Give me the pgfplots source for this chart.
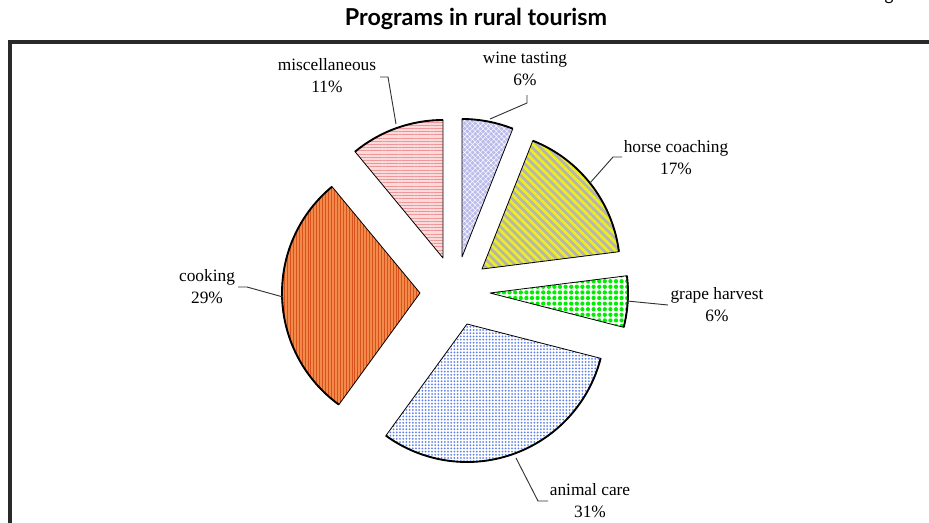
\documentclass[border=0pt]{standalone}
\usepackage{fontspec}
\setmainfont{Liberation Serif}
\newfontfamily\titlefont{Lato}
\usepackage{pgfplots}
\pgfplotsset{compat=1.18}
\usepackage{pgfplotstable}
\usetikzlibrary{patterns.meta}

\definecolor{winefill}{HTML}{BCBCEC}
\definecolor{horsegray}{HTML}{B4B4B0}
\definecolor{horseyel}{HTML}{EEEE22}
\definecolor{grapegreen}{HTML}{00EE00}
\definecolor{animalblue}{HTML}{5F80EA}
\definecolor{cookfill}{HTML}{F28A4A}
\definecolor{cookline}{HTML}{D8501C}
\definecolor{miscfill}{HTML}{FADADA}
\definecolor{miscline}{HTML}{EE9696}
\definecolor{frame}{HTML}{2A2A2A}
\definecolor{leader}{HTML}{333333}

% share (%) of each programme, clockwise from the top; ax, ay = apex of the exploded slice (pixels)
\pgfplotstableread{
name    cum pct ax  ay
wine     0   6  462 257
horse    6  17  482 269
grape   23   6  490 293
animal  29  31  467 324
cooking 60  29  420 293
misc    89  11  443 258
}\pietable

\tikzset{
  s-wine/.style={fill=winefill, postaction={pattern={Hatch[angle=45,distance=2.8pt,line width=0.35pt]}, pattern color=white}},
  s-horse/.style={fill=horsegray, postaction={pattern={Lines[angle=-45,distance=4.2pt,line width=2pt]}, pattern color=horseyel}},
  s-grape/.style={fill=white, postaction={pattern={Dots[distance=4.2pt,radius=1.6pt]}, pattern color=grapegreen}},
  s-animal/.style={fill=white, postaction={pattern={Dots[distance=2.4pt,radius=0.75pt]}, pattern color=animalblue}},
  s-cooking/.style={fill=cookfill, postaction={pattern={Lines[angle=90,distance=2.2pt,line width=0.7pt]}, pattern color=cookline}},
  s-misc/.style={fill=miscfill, postaction={pattern={Lines[angle=0,distance=2.4pt,line width=0.55pt]}, pattern color=miscline}},
  lab/.style={font=\fontsize{13}{16.5}\selectfont, align=center, inner sep=0pt},
}

% \pieslice{row}
\newcommand\pieslice[1]{%
  \pgfplotstablegetelem{#1}{name}\of\pietable\edef\sname{\pgfplotsretval}%
  \pgfplotstablegetelem{#1}{cum}\of\pietable\edef\scum{\pgfplotsretval}%
  \pgfplotstablegetelem{#1}{pct}\of\pietable\edef\spct{\pgfplotsretval}%
  \pgfplotstablegetelem{#1}{ax}\of\pietable\edef\sax{\pgfplotsretval}%
  \pgfplotstablegetelem{#1}{ay}\of\pietable\edef\say{\pgfplotsretval}%
  \pgfmathsetmacro\sa{90-3.6*\scum}%
  \pgfmathsetmacro\se{90-3.6*(\scum+\spct)}%
  \edef\tmp{%
    \noexpand\path[s-\sname] (axis cs:\sax,\say) -- ++(\sa:103.5pt) arc[start angle=\sa, end angle=\se, radius=103.5pt] -- cycle;%
    \noexpand\draw[black, line width=0.6pt, line join=round] (axis cs:\sax,\say) -- ++(\sa:103.5pt) arc[start angle=\sa, end angle=\se, radius=103.5pt] -- cycle;%
    \noexpand\draw[black, line width=1.4pt] (axis cs:\sax,\say) ++(\sa:103.5pt) arc[start angle=\sa, end angle=\se, radius=103.5pt];%
  }\tmp
}

\begin{document}
\begin{tikzpicture}
\begin{axis}[
  name=ax,
  scale only axis, width=696.75pt, height=391.5pt,
  xmin=0, xmax=929, ymin=0, ymax=522, y dir=reverse,
  hide axis, clip=false,
]
% frame
\addplot[frame, line width=2.4pt, line cap=rect] coordinates {(10,540) (10,42) (960,42)};
% slices
\pieslice{0}\pieslice{1}\pieslice{2}\pieslice{3}\pieslice{4}\pieslice{5}
% leader lines
\addplot[leader, line width=0.7pt] coordinates {(380,77) (388,77) (396,124)};
\addplot[leader, line width=0.7pt] coordinates {(527,95) (527,103) (490,119)};
\addplot[leader, line width=0.7pt] coordinates {(622,157) (613,157) (590,183)};
\addplot[leader, line width=0.7pt] coordinates {(668,305) (627,301)};
\addplot[leader, line width=0.7pt] coordinates {(238,287) (247,287) (283,297)};
\addplot[leader, line width=0.7pt] coordinates {(548,501) (538,501) (516,458)};
% labels
\node[lab] at (axis cs:327,76) {miscellaneous\\11\%};
\node[lab] at (axis cs:525,68.5) {wine tasting\\6\%};
\node[lab] at (axis cs:676,157.5) {horse coaching\\17\%};
\node[lab] at (axis cs:717,305) {grape harvest\\6\%};
\node[lab] at (axis cs:207,286.5) {cooking\\29\%};
\node[lab] at (axis cs:590,501) {animal care\\31\%};
% title
\node[anchor=base, font=\titlefont\bfseries\fontsize{17.5}{20}\selectfont] at (axis cs:476,25) {Programs in rural tourism};
\node[anchor=base, font=\titlefont\fontsize{13}{16}\selectfont] at (axis cs:889,0) {g};
\end{axis}
\pgfresetboundingbox
\path[use as bounding box] (ax.south west) rectangle (ax.north east);
\end{tikzpicture}
\end{document}
